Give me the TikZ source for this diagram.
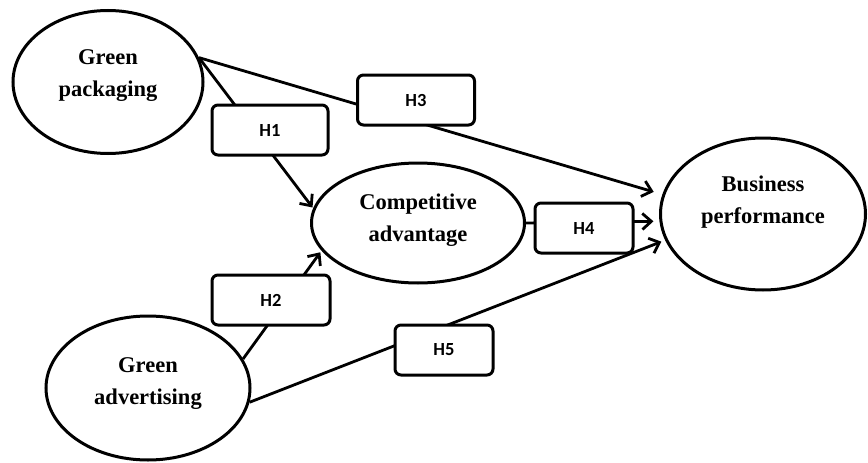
\documentclass[tikz,border=0pt]{standalone}
\usepackage{fontspec}
\setmainfont{Liberation Serif}
\newfontfamily\boxfont{Carlito}
\usetikzlibrary{arrows.meta,shapes.geometric}
\begin{document}
\begin{tikzpicture}[x=1pt,y=-1pt,
  construct/.style={draw,ellipse,line width=3pt,inner sep=0pt},
  ctext/.style={align=center,font=\fontsize{22.5}{32}\selectfont\bfseries},
  hbox/.style={draw,fill=white,rounded corners=6pt,line width=3pt,minimum height=50pt,font=\boxfont\fontsize{18.5}{20}\selectfont\bfseries},
  conn/.style={line width=2.8pt,-{Straight Barb[length=9pt,width=16pt,line width=2.8pt]}}]
\useasboundingbox (0,0) rectangle (868,463);
% constructs
\node[construct,minimum width=190pt,minimum height=143pt] (GP) at (108,82) {};
\node[construct,minimum width=204pt,minimum height=144pt] (GA) at (148,388) {};
\node[construct,minimum width=213pt,minimum height=120pt] (CA) at (418,223) {};
\node[construct,minimum width=205pt,minimum height=152pt] (BP) at (763,214) {};
\node[ctext] (GPt) at (108,76) {Green\\packaging};
\node[ctext] (GAt) at (148,384) {Green\\advertising};
\node[ctext] (CAt) at (418,220) {Competitive\\advantage};
\node[ctext] (BPt) at (763,202) {Business\\performance};
% connectors
\draw[conn,shorten >=1pt] (GP.15) -- (CA.172);
\draw[conn,shorten >=9pt] (GP.15) -- (BP.169);
\draw[conn,shorten >=2pt] (GA.17) -- (CA.196);
\draw[conn,shorten >=4pt] (GA.-8) -- (BP.195);
\draw[conn,shorten >=6pt] (CA.east) -- (BP.184);
% hypothesis boxes
\node[hbox,minimum width=116pt] (H1) at (270,130) {H1};
\node[hbox,minimum width=118pt] (H2) at (271,300) {H2};
\node[hbox,minimum width=117pt] (H3) at (416,100) {H3};
\node[hbox,minimum width=98pt] (H4) at (584,228) {H4};
\node[hbox,minimum width=98pt] (H5) at (444,350) {H5};
\end{tikzpicture}
\end{document}
